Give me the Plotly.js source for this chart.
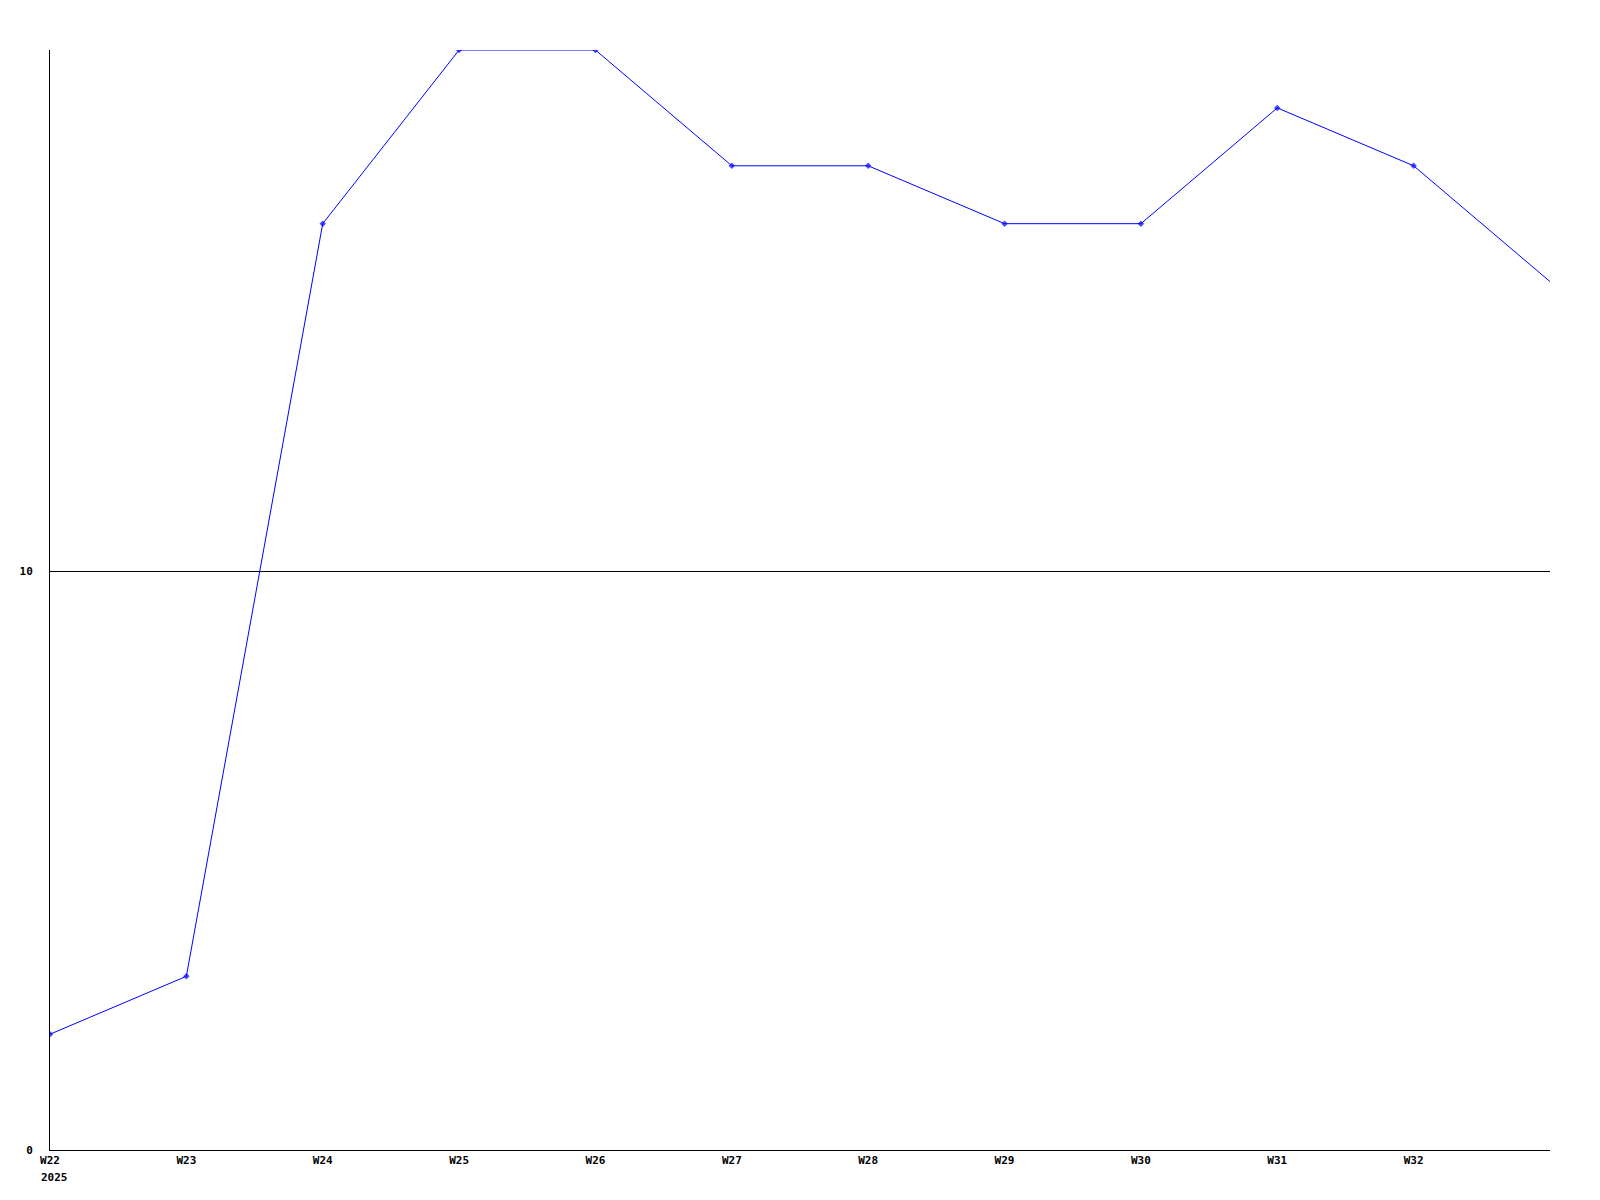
<!DOCTYPE html>
<html>
<head>
<meta charset="utf-8">
<script src="https://cdn.plot.ly/plotly-3.0.1.min.js"></script>
<style>html,body{margin:0;padding:0;background:#fff;}#chart{width:1600px;height:1200px;}</style>
</head>
<body>
<div id="chart"></div>
<script>
const weeks = ["W22","W23","W24","W25","W26","W27","W28","W29","W30","W31","W32","W33"];
const values = [2, 3, 16, 19, 19, 17, 17, 16, 16, 18, 17, 15];
const tickLabels = ["W22","W23","W24","W25","W26","W27","W28","W29","W30","W31","W32"];
const yearLabel = "2025";
const yTicks = [0, 10];

const xIdx = weeks.map((w, i) => i);

const trace = {
  x: xIdx,
  y: values,
  type: 'scatter',
  mode: 'lines+markers',
  line: {color: '#0000ff', width: 1},
  marker: {color: '#0000ff', size: weeks.map((w, i) => i === weeks.length - 1 ? 0 : 5), symbol: 'diamond', line: {width: 0}},
  cliponaxis: true,
  hoverinfo: 'skip'
};

const font = {family: 'DejaVu Sans Mono, monospace', size: 11, color: '#000'};

const layout = {
  width: 1600, height: 1200,
  margin: {l: 50, r: 50, t: 50, b: 50},
  paper_bgcolor: '#fff', plot_bgcolor: '#fff',
  showlegend: false,
  font: font,
  xaxis: {
    range: [0, weeks.length - 1],
    tickvals: tickLabels.map((t, i) => i),
    ticktext: tickLabels.map(t => '<b>' + t + '</b>'),
    showgrid: false, zeroline: false,
    showline: true, linecolor: '#000', linewidth: 1,
    ticks: '', tickangle: 0,
    tickfont: font
  },
  yaxis: {
    range: [0, 19],
    tickvals: yTicks,
    ticktext: yTicks.map(v => '<b>' + v + '</b>'),
    showgrid: true, gridcolor: '#000', gridwidth: 1,
    zeroline: false,
    showline: true, linecolor: '#000', linewidth: 1,
    ticks: '', ticklabelstandoff: 14,
    tickfont: font
  },
  annotations: [{
    xref: 'x', yref: 'paper', x: 0, y: 0,
    xanchor: 'left', yanchor: 'top',
    xshift: -11, yshift: -19,
    text: '<b>' + yearLabel + '</b>',
    showarrow: false, font: font
  }]
};

Plotly.newPlot('chart', [trace], layout, {staticPlot: true});
</script>
</body>
</html>
